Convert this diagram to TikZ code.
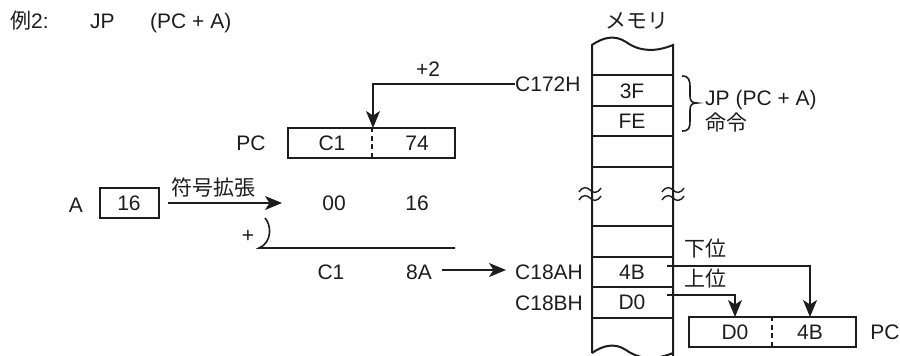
\documentclass[tikz,border=0pt]{standalone}
\usepackage{fontspec}
\setmainfont{Liberation Sans}
\newfontfamily\cjk{Noto Sans CJK JP}
\usetikzlibrary{arrows.meta}
\definecolor{ink}{HTML}{1E1C1D}
\tikzset{
  txt/.style={inner sep=0pt, text height=14.8pt, text depth=0pt, font=\fontsize{21}{24}\selectfont, text=ink},
  box/.style={draw=ink, line width=1.9pt, minimum width=167pt, minimum height=30pt, inner sep=0pt},
  cell/.style={minimum width=81pt, minimum height=30.5pt, inner sep=0pt},
  arr/.style={draw=ink, line width=1.6pt, -{Stealth[length=17pt,width=14pt,inset=4.5pt]}},
  ln/.style={draw=ink, line width=1.6pt},
  mem/.style={draw=ink, line width=2pt},
  divider/.style={draw=ink, line width=1.6pt, dash pattern=on 5pt off 3.5pt},
}
\begin{document}
\begin{tikzpicture}[x=1pt,y=-1pt]
\useasboundingbox (0,0) rectangle (900,356);
\clip (0,0) rectangle (900,356);
% title
\node[txt, anchor=west] (t1) at (10,21) {\cjk 例\rmfamily 2:};
\node[txt, anchor=west] (t2) at (90,21) {JP};
\node[txt, anchor=west] (t3) at (150,21) {(PC + A)};
\node[txt] (memlbl) at (637,21) {\cjk メモリ};
% memory column
\draw[mem] (592,353) -- (592,45) .. controls (602,38) and (614,34) .. (626,42) .. controls (640,52) and (656,52) .. (673,45) -- (673,360);
\draw[mem] (592,353) .. controls (602,346) and (614,342) .. (626,350) .. controls (640,360) and (656,360) .. (673,353);
\foreach \y in {75,105.5,136,166.5,226,256.5,287,317.5}
  \draw[mem] (592,\y) -- (673,\y);
% break marks
\foreach \x in {590,673}{
  \foreach \y in {190,198}{
    \draw[ink, line width=1.4pt] (\x-11,\y+2) .. controls (\x-7,\y-4) and (\x-3,\y-3) .. (\x,\y) .. controls (\x+3,\y+3) and (\x+7,\y+4) .. (\x+11,\y-2);
  }
}
% memory cells
\node[cell] (m3F) at (632.5,90.5) {};
\node[txt] at (632,91) {3F};
\node[cell] (mFE) at (632.5,121) {};
\node[txt] at (632,121) {FE};
\node[cell] (m4B) at (632.5,272) {};
\node[txt] (v4B) at (632,272) {4B};
\node[cell] (mD0) at (632.5,302) {};
\node[txt] (vD0) at (632,302) {D0};
% addresses
\node[txt, anchor=west] (c172) at (515,84) {C172H};
\node[txt, anchor=west] (c18a) at (515,272) {C18AH};
\node[txt, anchor=west] (c18b) at (515,303) {C18BH};
% brace and instruction label
\draw[ink, line width=1.6pt] (682,76) .. controls (689,76) and (690,80) .. (690,88) -- (690,96) .. controls (690,101) and (692,103) .. (697,103) .. controls (692,103) and (690,105) .. (690,110) -- (690,121) .. controls (690,128) and (689,131) .. (682,131);
\node[txt, anchor=west] (jp) at (705,98) {JP (PC + A)};
\node[txt, anchor=west] (meirei) at (705,123) {\cjk 命令};
% upper PC
\node[box] (pcU) at (371.5,143) {};
\draw[divider] (pcU.north -| 372,0) -- (pcU.south -| 372,0);
\node[txt] (pcUl) at (251,143) {PC};
\node[txt] (pcUh) at (332,143) {C1};
\node[txt] (pcUlo) at (417,143) {74};
\node[txt] (plus2) at (428,69) {+2};
\coordinate (pcUin) at (373,128);
\draw[arr] (c172.west) -| (pcUin);
% A register
\node[txt] (Albl) at (76,205) {A};
\node[box, minimum width=59pt] (boxA) at (129.5,203) {};
\node[txt] at (129,203) {16};
\coordinate (extEnd) at (282,203);
\coordinate (extStart) at (168,203);
\draw[arr] (extStart) -- (extEnd);
\node[txt] (ext) at (213,188) {\cjk 符号拡張};
\node[txt] (v00) at (334,203) {00};
\node[txt] (v16) at (417,203) {16};
% addition
\node[txt] (plus) at (248,235) {+};
\draw[ln] (265,218) .. controls (271,224) and (273,242) .. (259,248) -- (455,248);
\node[txt] (rC1) at (331,272) {C1};
\node[txt] (r8A) at (419,272) {8A};
\coordinate (addrStart) at (442,270);
\coordinate (addrEnd) at (506,270);
\draw[arr] (addrStart) -- (addrEnd);
% lower PC
\node[box] (pcL) at (772.5,332) {};
\draw[divider] (pcL.north -| 772,0) -- (pcL.south -| 772,0);
\node[txt] (pcLh) at (735,332) {D0};
\node[txt] (pcLlo) at (810,332) {4B};
\node[txt] (pcLl) at (885,332) {PC};
\coordinate (o4B) at (667,266);
\coordinate (oD0) at (667,295);
\coordinate (i4B) at (810,317);
\coordinate (iD0) at (735,317);
\draw[arr] (o4B) -| (i4B);
\draw[arr] (oD0) -| (iD0);
\node[txt] (kai) at (705,249) {\cjk 下位};
\node[txt] (jou) at (705,279) {\cjk 上位};
\end{tikzpicture}
\end{document}
